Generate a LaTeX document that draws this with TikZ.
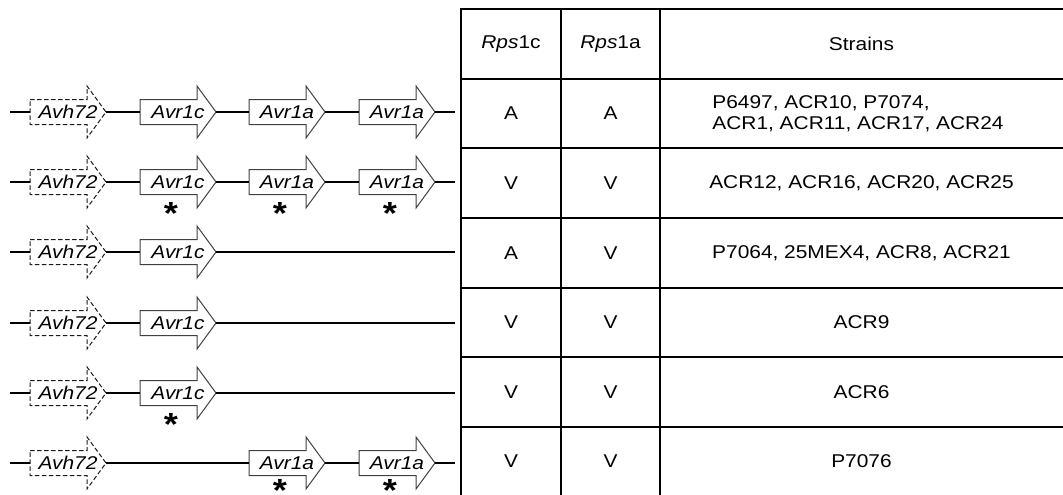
\documentclass[tikz,border=0pt]{standalone}
\usepackage{fontspec}
\setmainfont{Liberation Sans}[FakeStretch=1.13]

% One gene drawn as a block arrow: #1 outline style, #2 name, #3 left x, #4 axis y, #5 label
\newcommand\genearrow[5][genebody]{%
  \draw[#1] (#3,#4-12.5) -- (#3+57,#4-12.5) -- (#3+57,#4-26) -- (#3+76,#4)
    -- (#3+57,#4+26) -- (#3+57,#4+12.5) -- (#3,#4+12.5) -- cycle;
  \coordinate (#2-in) at (#3,#4);
  \coordinate (#2-out) at (#3+76,#4);
  \node[genelabel] (#2) at (#3+38,#4) {#5};
}
% Asterisk under a gene: #1 drop below the axis, #2 name, #3 gene left x, #4 axis y
% (the glyph is lowered onto its own base line so the node box hugs it)
\newcommand\mutmark[4][29.2]{%
  \node[mut] (#2) at (#3+31,#4+#1) {\raisebox{-0.4em}{*}};
}

\begin{document}
\begin{tikzpicture}[x=1pt,y=-1pt,
  dna/.style={line width=1.9pt},
  genebody/.style={draw=black!75,line width=1pt,fill=white},
  pseudo/.style={genebody,draw=black!90,dash pattern=on 4.5pt off 2.5pt},
  genelabel/.style={font=\fontsize{18.5}{20}\selectfont\itshape,inner sep=0pt},
  cell/.style={font=\fontsize{18.5}{20.5}\selectfont,inner sep=0pt,align=center},
  rule/.style={line width=1.9pt,line cap=rect},
  mut/.style={font=\fontsize{32}{32}\selectfont\bfseries,inner sep=0pt,anchor=base}]
\useasboundingbox (0,0) rectangle (1063,495);

% ---------- table ----------
\foreach \yy in {9,79,148,218,288,357,427}
  \draw[rule] (461,\yy) -- (1063,\yy);
\foreach \xx in {461,561,660}
  \draw[rule] (\xx,9) -- (\xx,495);

\node[cell] (hc) at (511,44) {\textit{Rps}1c};
\node[cell] (ha) at (610.5,44) {\textit{Rps}1a};
\node[cell] (hs) at (861.5,44) {Strains};

\node[cell] (c1) at (511,113.5) {A};
\node[cell] (a1) at (610.5,113.5) {A};
\node[cell,align=left] (s1) at (858,113.5) {P6497, ACR10, P7074,\\ACR1, ACR11, ACR17, ACR24};

\node[cell] (c2) at (511,183) {V};
\node[cell] (a2) at (610.5,183) {V};
\node[cell] (s2) at (861.5,183) {ACR12, ACR16, ACR20, ACR25};

\node[cell] (c3) at (511,253) {A};
\node[cell] (a3) at (610.5,253) {V};
\node[cell] (s3) at (861.5,253) {P7064, 25MEX4, ACR8, ACR21};

\node[cell] (c4) at (511,322.5) {V};
\node[cell] (a4) at (610.5,322.5) {V};
\node[cell] (s4) at (861.5,322.5) {ACR9};

\node[cell] (c5) at (511,392) {V};
\node[cell] (a5) at (610.5,392) {V};
\node[cell] (s5) at (861.5,392) {ACR6};

\node[cell] (c6) at (511,461) {V};
\node[cell] (a6) at (610.5,461) {V};
\node[cell] (s6) at (861.5,461) {P7076};

% ---------- loci ----------
% row 1
\coordinate (L1s) at (10,112); \coordinate (L1e) at (455,112);
\genearrow[pseudo]{g1a}{30}{112}{Avh72}
\genearrow{g1b}{140}{112}{Avr1c}
\genearrow{g1c}{249}{112}{Avr1a}
\genearrow{g1d}{359}{112}{Avr1a}
\draw[dna] (L1s) -- (g1a-in) (g1a-out) -- (g1b-in) (g1b-out) -- (g1c-in)
  (g1c-out) -- (g1d-in) (g1d-out) -- (L1e);

% row 2
\coordinate (L2s) at (10,182); \coordinate (L2e) at (455,182);
\genearrow[pseudo]{g2a}{30}{182}{Avh72}
\genearrow{g2b}{140}{182}{Avr1c}
\genearrow{g2c}{249}{182}{Avr1a}
\genearrow{g2d}{359}{182}{Avr1a}
\draw[dna] (L2s) -- (g2a-in) (g2a-out) -- (g2b-in) (g2b-out) -- (g2c-in)
  (g2c-out) -- (g2d-in) (g2d-out) -- (L2e);
\mutmark{m2b}{140}{182}
\mutmark{m2c}{249}{182}
\mutmark{m2d}{359}{182}

% row 3
\coordinate (L3s) at (10,252); \coordinate (L3e) at (455,252);
\genearrow[pseudo]{g3a}{30}{252}{Avh72}
\genearrow{g3b}{140}{252}{Avr1c}
\draw[dna] (L3s) -- (g3a-in) (g3a-out) -- (g3b-in) (g3b-out) -- (L3e);

% row 4
\coordinate (L4s) at (10,323); \coordinate (L4e) at (455,323);
\genearrow[pseudo]{g4a}{30}{323}{Avh72}
\genearrow{g4b}{140}{323}{Avr1c}
\draw[dna] (L4s) -- (g4a-in) (g4a-out) -- (g4b-in) (g4b-out) -- (L4e);

% row 5
\coordinate (L5s) at (10,393); \coordinate (L5e) at (455,393);
\genearrow[pseudo]{g5a}{30}{393}{Avh72}
\genearrow{g5b}{140}{393}{Avr1c}
\draw[dna] (L5s) -- (g5a-in) (g5a-out) -- (g5b-in) (g5b-out) -- (L5e);
\mutmark{m5b}{140}{393}

% row 6
\coordinate (L6s) at (10,463); \coordinate (L6e) at (455,463);
\genearrow[pseudo]{g6a}{30}{463}{Avh72}
\genearrow{g6c}{249}{463}{Avr1a}
\genearrow{g6d}{359}{463}{Avr1a}
\draw[dna] (L6s) -- (g6a-in) (g6a-out) -- (g6c-in) (g6c-out) -- (g6d-in) (g6d-out) -- (L6e);
\mutmark[25.2]{m6c}{249}{463}
\mutmark[25.2]{m6d}{359}{463}
\end{tikzpicture}
\end{document}
